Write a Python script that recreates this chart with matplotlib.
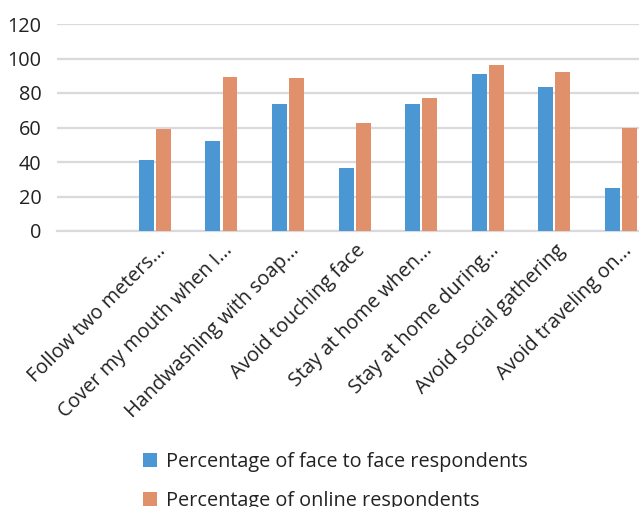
import matplotlib
matplotlib.use("Agg")
import matplotlib.pyplot as plt
import numpy as np

categories = ["Follow two meters...", "Cover my mouth when I...", "Handwashing with soap...",
              "Avoid touching face", "Stay at home when...", "Stay at home during...",
              "Avoid social gathering", "Avoid traveling on..."]
face_to_face = [41, 52, 73.5, 36.5, 73.5, 91, 83.5, 25]
online = [59, 89.5, 88.5, 62.5, 77, 96, 92, 59.5]
yticks = [0, 20, 40, 60, 80, 100, 120]

plt.rcParams['font.family'] = ['Open Sans', 'DejaVu Sans']

fig = plt.figure(figsize=(6.39, 5.07), dpi=100)
ax = fig.add_axes([57/639, 1 - 231/507, (639-57)/639, (231-24)/507])

x = np.arange(len(categories))
w = 0.225
off = 0.128
ax.bar(x - off, face_to_face, width=w, color="#4B97D3", label="Percentage of face to face respondents", zorder=3)
ax.bar(x + off, online, width=w, color="#E0906A", label="Percentage of online respondents", zorder=3)

fs = 14.3
ax.set_ylim(0, 120)
ax.set_xlim(-1.47, 7.27)
ax.set_yticks(yticks)
ax.yaxis.grid(True, color="#D9D9DE", linewidth=1.6, zorder=0)
ax.set_axisbelow(True)
for s in ["top", "right", "left"]:
    ax.spines[s].set_visible(False)
ax.spines["bottom"].set_color("#D9D9DE")
ax.spines["bottom"].set_linewidth(1.6)
ax.tick_params(axis="y", length=0, pad=11, labelsize=fs, labelcolor="#222222")
ax.tick_params(axis="x", length=0, pad=12)
ax.set_xticks(x + 0.12)
ax.set_xticklabels(categories, rotation=45, ha="right", va="center", rotation_mode="anchor",
                   fontsize=fs, color="#222222")
for lab in ax.get_yticklabels():
    lab.set_horizontalalignment("right")

leg = fig.legend(loc="upper left", bbox_to_anchor=(143/639, 1 - 452/507), ncol=1, frameon=False,
                 fontsize=fs, handlelength=0.7, handleheight=0.7, handletextpad=0.45,
                 labelspacing=0.95, borderaxespad=0, borderpad=0)
for t in leg.get_texts():
    t.set_color("#222222")

fig.savefig("out.png", dpi=100)
